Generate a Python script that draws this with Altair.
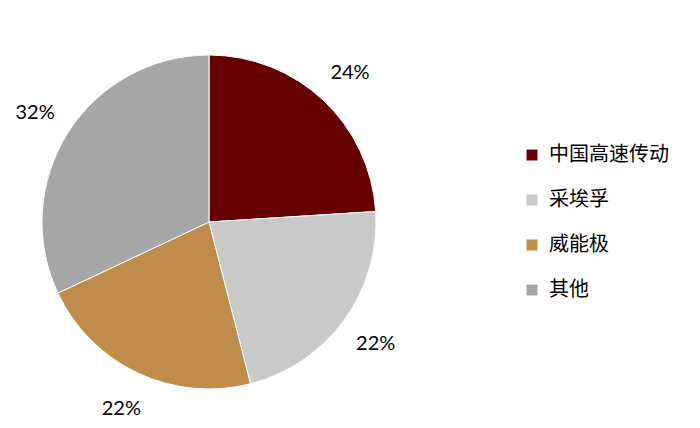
import altair as alt
import pandas as pd

categories = ["中国高速传动", "采埃孚", "威能极", "其他"]
shares = [24, 22, 22, 32]
labels = ["24%", "22%", "22%", "32%"]
colors = ["#660000", "#C9C9C9", "#BF8C4C", "#A6A6A6"]

df = pd.DataFrame({
    "cat": categories,
    "share": shares,
    "label": labels,
    "order": list(range(len(categories))),
})

cx, cy = 201, 214

base = alt.Chart(df).encode(
    theta=alt.Theta("share:Q", stack=True),
    order=alt.Order("order:Q"),
)

pie = base.mark_arc(radius=167, stroke="white", strokeWidth=1).encode(
    x=alt.value(cx),
    y=alt.value(cy),
    color=alt.Color(
        "cat:N",
        scale=alt.Scale(domain=categories, range=colors),
        sort=categories,
        legend=alt.Legend(
            title=None,
            orient="none",
            legendX=514,
            legendY=137,
            symbolType="square",
            symbolSize=120,
            symbolStrokeWidth=0,
            labelFont="Noto Sans CJK SC",
            labelFontSize=20,
            labelColor="#000000",
            labelOffset=7,
            rowPadding=25,
        ),
    ),
)

text = base.mark_text(radius=206, font="Lato", fontSize=20, color="#000000", dy=1).encode(
    x=alt.value(cx),
    y=alt.value(cy),
    text="label:N",
)

chart = (pie + text).properties(
    width=684,
    height=418,
    autosize=alt.AutoSizeParams(type="none"),
    padding=0,
).configure_view(stroke=None)

chart.save("out.html", embed_options={"renderer": "svg", "actions": False})
